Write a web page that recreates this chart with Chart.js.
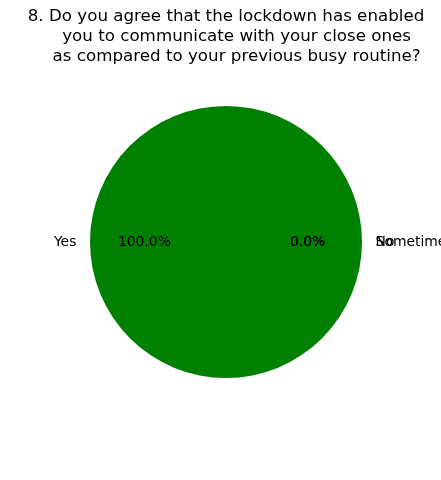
<!DOCTYPE html>
<html>
<head>
<meta charset="utf-8">
<script src="https://cdn.jsdelivr.net/npm/chart.js@4"></script>
<style>
html,body{margin:0;padding:0;background:#fff;}
#wrap{width:441px;height:480px;position:relative;}
</style>
</head>
<body>
<div id="wrap"><canvas id="c" width="441" height="480"></canvas></div>
<script>
const titleLines = [
  "8. Do you agree that the lockdown has enabled",
  "    you to communicate with your close ones",
  "    as compared to your previous busy routine?"
];
const categories = ["Yes", "No", "Sometimes"];
const values = [100, 0, 0];
const colors = ["green", "green", "green"];

const FONT = "'DejaVu Sans', sans-serif";

const labelPlugin = {
  id: 'mplLabels',
  afterDatasetsDraw(chart) {
    const ctx = chart.ctx;
    const meta = chart.getDatasetMeta(0);
    const total = values.reduce((a, b) => a + b, 0);
    ctx.save();
    ctx.fillStyle = '#000';
    ctx.textBaseline = 'middle';
    ctx.font = '13.9px ' + FONT;
    meta.data.forEach((arc, i) => {
      const p = arc.getProps(['x', 'y', 'startAngle', 'endAngle', 'outerRadius'], true);
      const mid = (p.startAngle + p.endAngle) / 2;
      const cx = Math.cos(mid), cy = Math.sin(mid);
      const r = p.outerRadius;
      const lx = p.x + cx * r * 1.1, ly = p.y + cy * r * 1.1;
      ctx.textAlign = cx < 0 ? 'right' : 'left';
      ctx.fillText(categories[i], lx, ly);
      const px = p.x + cx * r * 0.6, py = p.y + cy * r * 0.6;
      ctx.textAlign = 'center';
      ctx.fillText((values[i] / total * 100).toFixed(1) + '%', px, py);
    });
    ctx.restore();
  }
};

const titlePlugin = {
  id: 'mplTitle',
  afterDraw(chart) {
    const ctx = chart.ctx;
    ctx.save();
    ctx.fillStyle = '#000';
    ctx.font = '16.7px ' + FONT;
    ctx.textAlign = 'center';
    ctx.textBaseline = 'middle';
    const meta = chart.getDatasetMeta(0);
    const x = meta.data[0].x;
    titleLines.forEach((t, i) => ctx.fillText(t, x, 17 + i * 20));
    ctx.restore();
  }
};

new Chart(document.getElementById('c'), {
  type: 'pie',
  data: {
    labels: categories,
    datasets: [{
      data: values,
      backgroundColor: colors,
      borderWidth: 0
    }]
  },
  options: {
    responsive: false,
    animation: false,
    rotation: 90,
    layout: { padding: { top: 106, bottom: 102, left: 90, right: 79 } },
    plugins: {
      legend: { display: false },
      title: { display: false },
      tooltip: { enabled: false }
    }
  },
  plugins: [labelPlugin, titlePlugin]
});
</script>
</body>
</html>
